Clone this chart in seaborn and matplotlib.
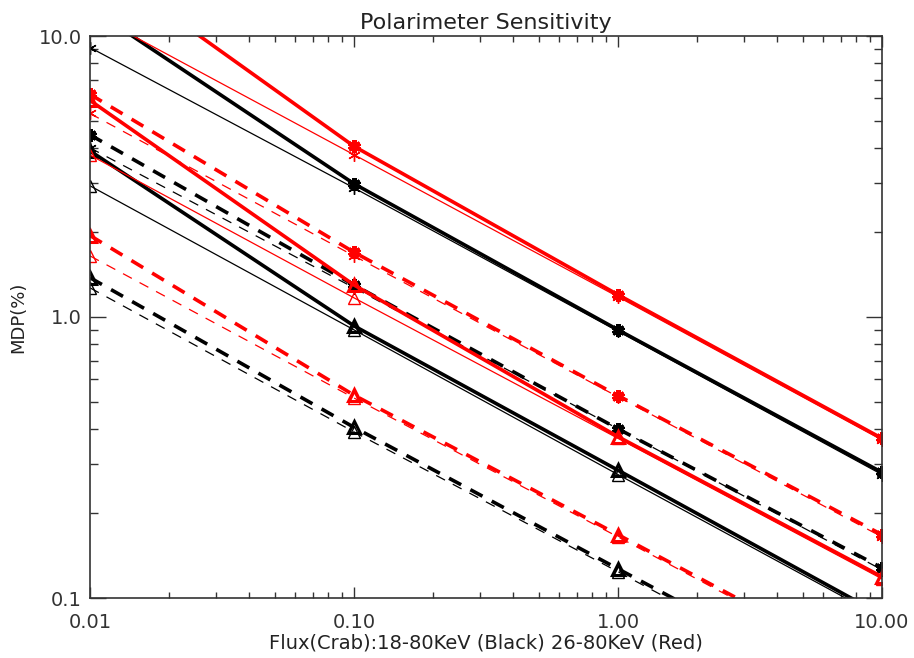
import matplotlib
matplotlib.use("Agg")
import matplotlib.pyplot as plt
import numpy as np
import pandas as pd
import seaborn as sns

# flux in Crab units
flux = [0.01, 0.1, 1.0, 10.0]

# black: 18-80 keV
blk_thick_solid_star = [12.6, 2.98, 0.90, 0.28]
blk_thin_solid_star = [9.1, 2.88, 0.89, 0.275]
blk_thick_dash_star = [4.45, 1.30, 0.40, 0.128]
blk_thin_dash_star = [4.0, 1.27, 0.40, 0.126]
blk_thick_solid_tri = [3.9, 0.93, 0.285, 0.087]
blk_thin_solid_tri = [2.93, 0.90, 0.275, 0.085]
blk_thick_dash_tri = [1.38, 0.405, 0.127, 0.040]
blk_thin_dash_tri = [1.27, 0.39, 0.124, 0.039]

# red: 26-80 keV
red_thick_solid_star = [19.0, 4.05, 1.20, 0.37]
red_thin_solid_star = [12.1, 3.78, 1.18, 0.365]
red_thick_dash_star = [6.2, 1.70, 0.525, 0.168]
red_thin_dash_star = [5.3, 1.65, 0.52, 0.165]
red_thick_solid_tri = [5.9, 1.30, 0.375, 0.119]
red_thin_solid_tri = [3.77, 1.17, 0.37, 0.117]
red_thick_dash_tri = [1.95, 0.527, 0.168, 0.053]
red_thin_dash_tri = [1.65, 0.515, 0.165, 0.052]

series = [
    ("black", "thick", "solid", "star", blk_thick_solid_star),
    ("black", "thin", "solid", "star", blk_thin_solid_star),
    ("black", "thick", "dash", "star", blk_thick_dash_star),
    ("black", "thin", "dash", "star", blk_thin_dash_star),
    ("black", "thick", "solid", "tri", blk_thick_solid_tri),
    ("black", "thin", "solid", "tri", blk_thin_solid_tri),
    ("black", "thick", "dash", "tri", blk_thick_dash_tri),
    ("black", "thin", "dash", "tri", blk_thin_dash_tri),
    ("red", "thick", "solid", "star", red_thick_solid_star),
    ("red", "thin", "solid", "star", red_thin_solid_star),
    ("red", "thick", "dash", "star", red_thick_dash_star),
    ("red", "thin", "dash", "star", red_thin_dash_star),
    ("red", "thick", "solid", "tri", red_thick_solid_tri),
    ("red", "thin", "solid", "tri", red_thin_solid_tri),
    ("red", "thick", "dash", "tri", red_thick_dash_tri),
    ("red", "thin", "dash", "tri", red_thin_dash_tri),
]

sns.set_style("ticks")
plt.rcParams["font.family"] = ["DejaVu Sans"]

fig = plt.figure(figsize=(9.14, 6.58), dpi=100)
ax = fig.add_axes([90 / 914, 60 / 658, 792 / 914, 562 / 658])

for color, weight, style, mark, vals in series:
    df = pd.DataFrame({"flux": flux, "mdp": vals})
    lw = 2.6 if weight == "thick" else 0.9
    if style == "dash":
        ls = (0, (3.8, 2.9)) if weight == "thick" else (0, (8, 7))
    else:
        ls = "-"
    if mark == "star":
        mk = (6, 2, 0)
        kw = dict(markersize=9, markeredgewidth=3.2 if weight == "thick" else 1.0)
    else:
        mk = "^"
        kw = dict(markersize=8.5, markerfacecolor="none",
                  markeredgewidth=2.2 if weight == "thick" else 1.0)
    sns.lineplot(data=df, x="flux", y="mdp", ax=ax, color=color, lw=lw,
                 linestyle=ls, marker=mk, markeredgecolor=color, **kw)

ax.set_xscale("log")
ax.set_yscale("log")
ax.set_xlim(0.01, 10)
ax.set_ylim(0.1, 10)

ax.set_xticks([0.01, 0.1, 1, 10])
ax.set_xticklabels(["0.01", "0.10", "1.00", "10.00"])
ax.set_yticks([0.1, 1, 10])
ax.set_yticklabels(["0.1", "1.0", "10.0"])

ax.tick_params(which="both", direction="in", top=True, right=True,
               colors="#333333", labelsize=14, width=1)
ax.tick_params(axis="y", which="major", length=11.5, pad=6)
ax.tick_params(axis="y", which="minor", length=6)
ax.tick_params(axis="x", which="major", length=8, pad=11)
ax.tick_params(axis="x", which="minor", length=4)
for s in ax.spines.values():
    s.set_color("#333333")
    s.set_linewidth(1.2)

ax.set_title("Polarimeter Sensitivity", fontsize=16, color="#222222", pad=5)
ax.set_xlabel("Flux(Crab):18-80KeV (Black) 26-80KeV (Red)", fontsize=14,
              color="#222222", labelpad=1)
ax.set_ylabel("MDP(%)", fontsize=13, color="#222222", labelpad=8)

fig.savefig("out.png", dpi=100)
